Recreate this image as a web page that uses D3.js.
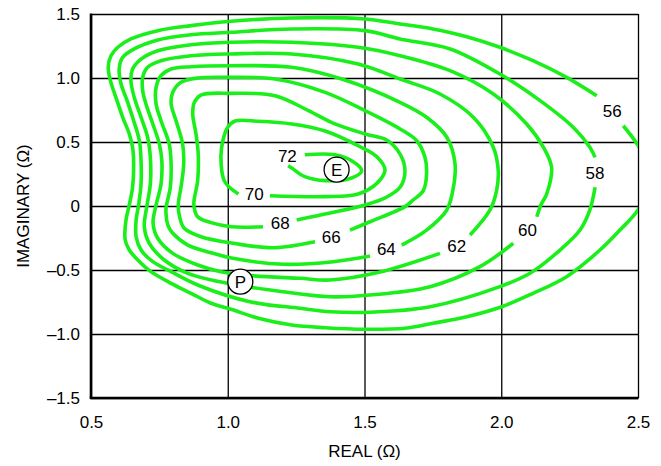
<!DOCTYPE html>
<html><head><meta charset="utf-8">
<script src="https://cdn.jsdelivr.net/npm/d3@7"></script>
<style>
body{margin:0;background:#fff}
svg text{font-family:"Liberation Sans",Arial,Helvetica,sans-serif;fill:#000}
</style>
</head><body>
<svg id="chart" width="661" height="466"></svg>
<script>
// ---- data ----
const xTicks = [0.5, 1.0, 1.5, 2.0, 2.5];
const xTickLabels = ["0.5", "1.0", "1.5", "2.0", "2.5"];
const yTicks = [-1.5, -1.0, -0.5, 0, 0.5, 1.0, 1.5];
const yTickLabels = ["\u20131.5", "\u20131.0", "\u20130.5", "0", "0.5", "1.0", "1.5"];
const xTitle = "REAL (\u03A9)";
const yTitle = "IMAGINARY (\u03A9)";

const contourLevels = [72, 70, 68, 66, 64, 62, 60, 58, 56];

const c72 = [[1.282,0.401],[1.392,0.401],[1.453,0.354],[1.490,0.276],[1.453,0.219],[1.356,0.198],[1.282,0.229],[1.234,0.297],[1.221,0.315]];
const c70 = [[1.154,0.080],[1.356,0.073],[1.477,0.094],[1.545,0.177],[1.575,0.281],[1.545,0.385],[1.484,0.463],[1.356,0.586],[1.234,0.641],[1.112,0.662],[1.027,0.664],[1.000,0.615],[0.982,0.510],[0.975,0.380],[0.987,0.198],[1.006,0.146],[1.039,0.094]];
const c68 = [[1.252,-0.109],[1.374,-0.055],[1.502,0.008],[1.575,0.063],[1.630,0.146],[1.648,0.276],[1.630,0.406],[1.581,0.516],[1.502,0.563],[1.392,0.641],[1.295,0.745],[1.173,0.862],[1.012,0.880],[0.902,0.867],[0.878,0.810],[0.872,0.719],[0.884,0.563],[0.892,0.406],[0.890,0.198],[0.876,0.008],[0.890,-0.084],[0.939,-0.130],[1.012,-0.162],[1.129,-0.162]];
const c66 = [[1.447,-0.188],[1.520,-0.123],[1.648,-0.005],[1.678,0.047],[1.715,0.120],[1.727,0.250],[1.721,0.380],[1.691,0.510],[1.630,0.602],[1.502,0.745],[1.356,0.888],[1.173,0.992],[1.012,1.005],[0.890,1.000],[0.829,0.966],[0.799,0.888],[0.793,0.797],[0.811,0.666],[0.835,0.484],[0.839,0.328],[0.829,0.146],[0.819,0.008],[0.825,-0.094],[0.841,-0.174],[0.902,-0.240],[1.019,-0.291],[1.167,-0.326],[1.319,-0.279]];
const c64 = [[1.636,-0.305],[1.727,-0.188],[1.801,-0.031],[1.825,0.146],[1.831,0.328],[1.801,0.537],[1.727,0.693],[1.630,0.810],[1.417,0.992],[1.234,1.084],[1.012,1.096],[0.866,1.088],[0.793,1.070],[0.756,1.018],[0.738,0.927],[0.738,0.797],[0.756,0.666],[0.786,0.484],[0.793,0.328],[0.790,0.146],[0.774,-0.031],[0.782,-0.156],[0.799,-0.213],[0.854,-0.305],[0.939,-0.365],[1.019,-0.409],[1.203,-0.455],[1.386,-0.435],[1.520,-0.391]];
const c62 = [[1.886,-0.227],[1.959,-0.031],[1.983,0.120],[1.989,0.276],[1.971,0.459],[1.898,0.693],[1.776,0.875],[1.630,0.992],[1.477,1.109],[1.234,1.188],[1.012,1.188],[0.866,1.174],[0.756,1.135],[0.707,1.084],[0.689,1.005],[0.689,0.901],[0.701,0.797],[0.726,0.641],[0.750,0.484],[0.759,0.354],[0.756,0.172],[0.738,0.008],[0.727,-0.133],[0.744,-0.252],[0.799,-0.370],[0.890,-0.461],[0.975,-0.513],[1.093,-0.545],[1.264,-0.565],[1.374,-0.578],[1.557,-0.516],[1.776,-0.370]];
const c60 = [[2.130,-0.084],[2.145,0.008],[2.166,0.094],[2.184,0.302],[2.154,0.459],[2.093,0.641],[1.971,0.875],[1.813,1.057],[1.630,1.174],[1.477,1.240],[1.234,1.279],[1.012,1.279],[0.866,1.260],[0.744,1.213],[0.683,1.148],[0.652,1.070],[0.646,0.979],[0.658,0.849],[0.683,0.693],[0.707,0.537],[0.717,0.380],[0.717,0.172],[0.705,0.008],[0.695,-0.162],[0.713,-0.291],[0.768,-0.422],[0.854,-0.526],[1.020,-0.612],[1.203,-0.670],[1.374,-0.709],[1.520,-0.695],[1.740,-0.630],[1.922,-0.474],[2.044,-0.291]];
const c58 = [[2.343,0.146],[2.324,-0.031],[2.288,-0.188],[2.215,-0.344],[2.105,-0.526],[1.995,-0.630],[1.740,-0.787],[1.520,-0.830],[1.374,-0.826],[1.264,-0.799],[1.081,-0.748],[0.899,-0.625],[0.793,-0.513],[0.726,-0.435],[0.683,-0.344],[0.665,-0.240],[0.665,-0.109],[0.674,0.008],[0.683,0.172],[0.683,0.354],[0.677,0.510],[0.656,0.666],[0.632,0.823],[0.610,0.953],[0.603,1.070],[0.616,1.162],[0.658,1.227],[0.744,1.297],[0.866,1.338],[1.012,1.357],[1.234,1.383],[1.502,1.370],[1.630,1.305],[1.813,1.227],[1.995,1.031],[2.142,0.823],[2.263,0.615],[2.324,0.459],[2.343,0.380]];
const c56 = [[2.446,0.627],[2.501,0.471],[2.560,0.220],[2.500,-0.031],[2.434,-0.188],[2.361,-0.344],[2.239,-0.552],[2.116,-0.682],[2.002,-0.787],[1.874,-0.865],[1.750,-0.916],[1.648,-0.955],[1.502,-0.963],[1.356,-0.951],[1.234,-0.930],[1.112,-0.877],[1.012,-0.807],[0.939,-0.760],[0.866,-0.682],[0.793,-0.604],[0.719,-0.513],[0.671,-0.422],[0.640,-0.344],[0.625,-0.266],[0.628,-0.109],[0.640,0.008],[0.652,0.146],[0.656,0.328],[0.652,0.459],[0.640,0.563],[0.616,0.693],[0.591,0.849],[0.571,0.979],[0.563,1.084],[0.573,1.174],[0.598,1.240],[0.646,1.305],[0.744,1.370],[0.866,1.409],[1.012,1.443],[1.234,1.469],[1.502,1.461],[1.630,1.422],[1.750,1.383],[1.874,1.323],[1.995,1.240],[2.116,1.135],[2.239,1.005],[2.349,0.862]];

const contourLines = [c72, c70, c68, c66, c64, c62, c60, c58, c56];
const labelX = [1.218, 1.097, 1.192, 1.378, 1.580, 1.837, 2.096, 2.343, 2.406];
const labelY = [0.387, 0.096, -0.131, -0.244, -0.338, -0.311, -0.188, 0.260, 0.741];

const markerNames = ["E", "P"];
const markerX = [1.398, 1.046];
const markerY = [0.284, -0.591];

// ---- chart ----
const svg = d3.select("#chart");
const L = 91, R = 638, T = 14, B = 398;
const x = d3.scaleLinear().domain([0.5, 2.5]).range([L, R]);
const y = d3.scaleLinear().domain([-1.5, 1.5]).range([B, T]);
const FS = 17;

// grid
svg.append("g").attr("transform", `translate(0,${B})`)
  .call(d3.axisBottom(x).tickValues(xTicks).tickSize(-(B - T)).tickFormat(""))
  .call(g => { g.select(".domain").remove(); g.selectAll("line").attr("stroke", "#000").attr("stroke-width", 1.3); });
svg.append("g").attr("transform", `translate(${L},0)`)
  .call(d3.axisLeft(y).tickValues(yTicks).tickSize(-(R - L)).tickFormat(""))
  .call(g => { g.select(".domain").remove(); g.selectAll("line").attr("stroke", "#000").attr("stroke-width", 1.3); });

// contours
svg.append("defs").append("clipPath").attr("id", "plotclip")
  .append("rect").attr("x", L).attr("y", T).attr("width", R - L).attr("height", B - T);

const line = d3.line().x(d => x(d[0])).y(d => y(d[1])).curve(d3.curveCatmullRom.alpha(0.5));
svg.append("g").attr("clip-path", "url(#plotclip)")
  .selectAll("path").data(contourLines).join("path")
  .attr("d", line)
  .attr("fill", "none")
  .attr("stroke", "#1bef1b")
  .attr("stroke-width", 3.6)
  .attr("stroke-linecap", "butt")
  .attr("stroke-linejoin", "round");

// frame (thick left & bottom)
svg.append("line").attr("x1", L).attr("x2", L).attr("y1", T - 0.6).attr("y2", B).attr("stroke", "#000").attr("stroke-width", 2.6);
svg.append("line").attr("x1", L - 1.3).attr("x2", R + 0.6).attr("y1", B).attr("y2", B).attr("stroke", "#000").attr("stroke-width", 2.6);

// tick labels
svg.append("g").attr("transform", `translate(0,${B})`)
  .call(d3.axisBottom(x).tickValues(xTicks).tickSize(0).tickPadding(18).tickFormat((d, i) => xTickLabels[i]))
  .call(g => { g.select(".domain").remove(); g.selectAll("text").attr("font-size", FS).attr("font-family", null); });
svg.append("g").attr("transform", `translate(${L},0)`)
  .call(d3.axisLeft(y).tickValues(yTicks).tickSize(0).tickPadding(11).tickFormat((d, i) => yTickLabels[i]))
  .call(g => { g.select(".domain").remove(); g.selectAll("text").attr("font-size", FS).attr("font-family", null); });

// contour labels
svg.append("g").selectAll("text").data(contourLevels).join("text")
  .attr("x", (d, i) => x(labelX[i]))
  .attr("y", (d, i) => y(labelY[i]) + 6)
  .attr("text-anchor", "middle")
  .attr("font-size", FS)
  .text(d => d);

// markers
const mk = svg.append("g").selectAll("g").data(markerNames).join("g")
  .attr("transform", (d, i) => `translate(${x(markerX[i])},${y(markerY[i])})`);
mk.append("circle").attr("r", 12.5).attr("fill", "#fff").attr("stroke", "#000").attr("stroke-width", 1.3);
mk.append("text").attr("text-anchor", "middle").attr("y", 6).attr("font-size", FS).text(d => d);

// axis titles
svg.append("text").attr("x", (L + R) / 2).attr("y", 457).attr("text-anchor", "middle").attr("font-size", FS).text(xTitle);
svg.append("text").attr("transform", `translate(29,${(T + B) / 2}) rotate(-90)`).attr("text-anchor", "middle").attr("font-size", FS).text(yTitle);
</script>
</body></html>
